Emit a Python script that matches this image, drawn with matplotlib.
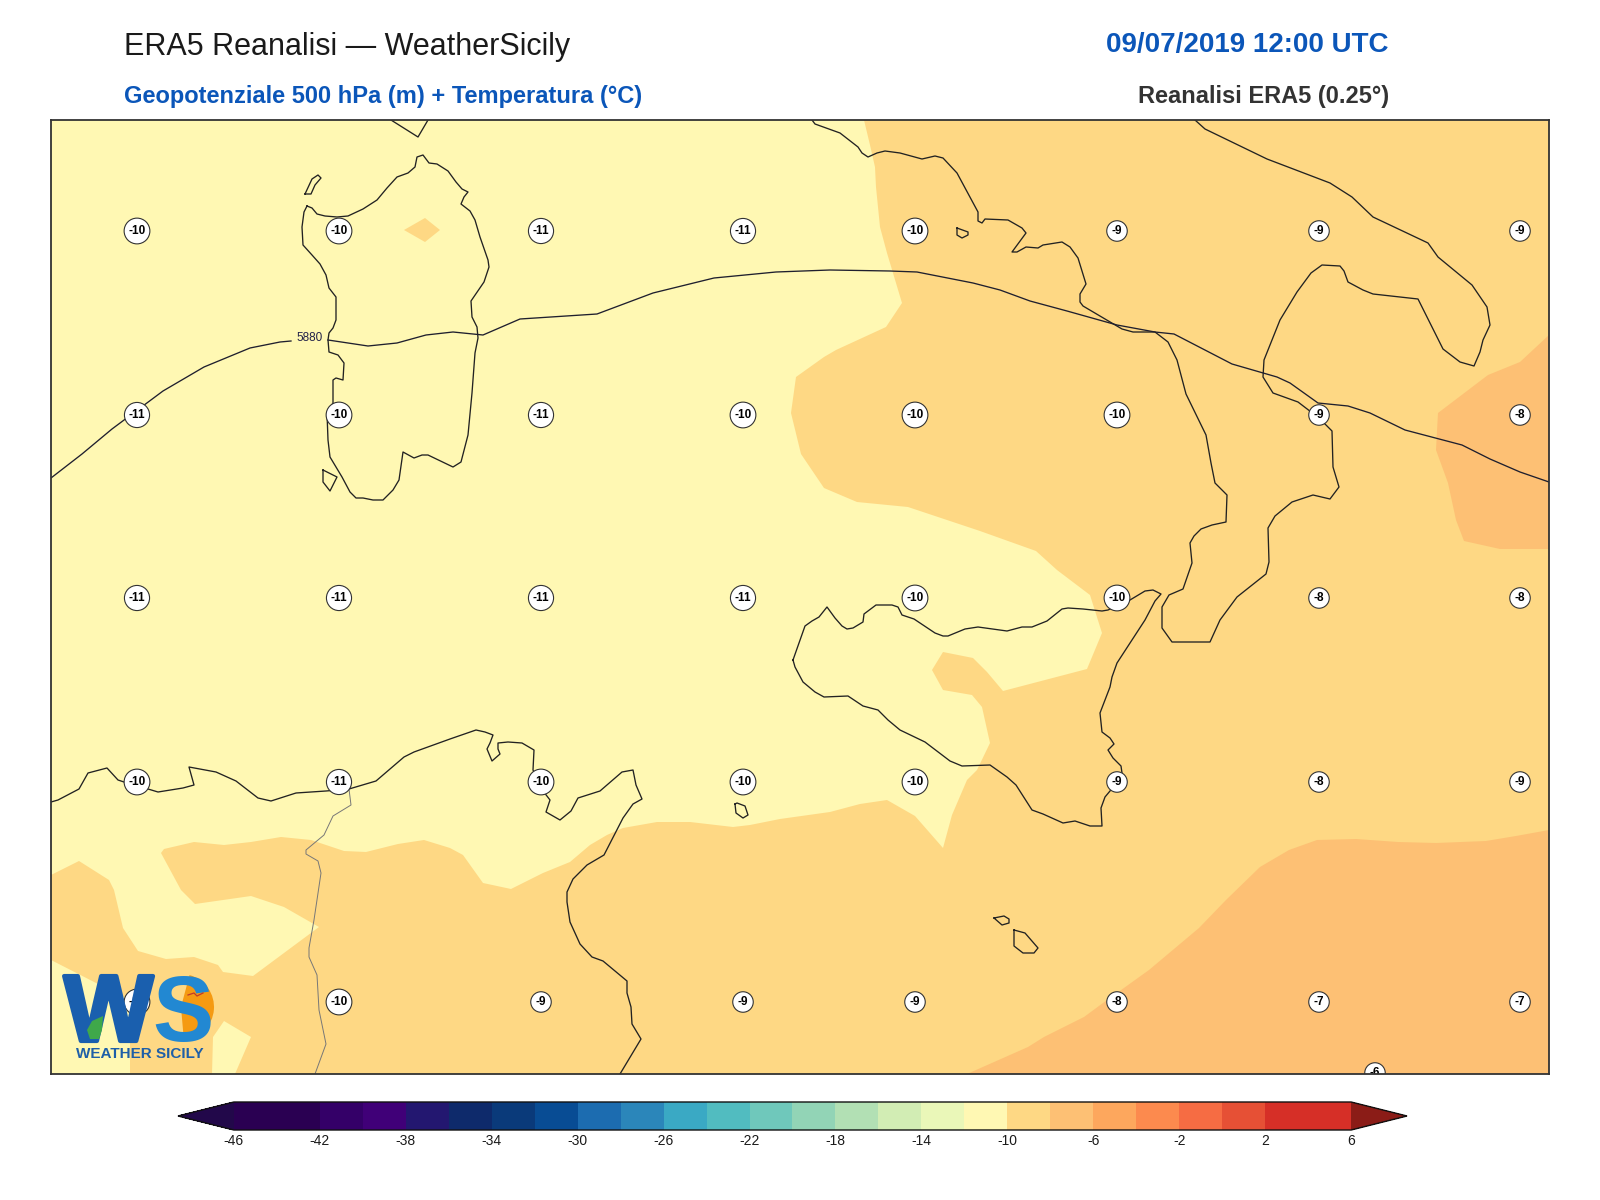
import matplotlib

matplotlib.use("Agg")
import matplotlib.patheffects as path_effects
import matplotlib.pyplot as plt
from matplotlib.colorbar import ColorbarBase
from matplotlib.colors import BoundaryNorm, ListedColormap
from matplotlib.patches import Wedge

plt.rcParams["font.family"] = ["Liberation Sans", "DejaVu Sans"]
plt.rcParams["axes.unicode_minus"] = False

# scala temperatura (°C)
LEVELS = list(range(-46, 8, 2))
BAND_COLORS = [
    "#2a0052", "#2a0052", "#340068", "#400078", "#231770", "#0e2a6b", "#0a3a7a",
    "#084c94", "#1c6cb0", "#2b86ba", "#3aa9c4", "#51bcc0", "#6fc8bb", "#92d4b6",
    "#b2e0b4", "#d2edb4", "#eaf7b8", "#fff8b3", "#fed884", "#fdc074", "#fda75d",
    "#fc8a4e", "#f66c43", "#e65035", "#d62f27", "#d62f27",
]
UNDER_COLOR = "#22084a"
OVER_COLOR = "#8b1c17"
TICK_LEVELS = list(range(-46, 10, 4))

# griglia dei valori di temperatura
LABEL_X = [137, 339, 541, 743, 915, 1117, 1319, 1520]
LABEL_Y = [231, 415, 598, 782, 1002]
LABEL_VALUES = [
    [-10, -10, -11, -11, -10, -9, -9, -9],
    [-11, -10, -11, -10, -10, -10, -9, -8],
    [-11, -11, -11, -11, -10, -10, -8, -8],
    [-10, -11, -10, -10, -10, -9, -8, -9],
    [-10, -10, -9, -9, -9, -8, -7, -7],
]

MAP_X = (51, 1549)
MAP_Y = (1074, 120)

BAND_10_8 = [
    (864, 120), (870, 145), (875, 167), (876, 187), (880, 227), (887, 253), (902, 303), (886, 327),
    (836, 350), (824, 357), (796, 377), (791, 413), (801, 454), (824, 488), (857, 502), (908, 507),
    (980, 531), (1036, 551), (1057, 570), (1090, 595), (1102, 633), (1087, 669), (1003, 691),
    (987, 672), (973, 658), (943, 652), (932, 670), (943, 690), (972, 695), (982, 707), (990, 743),
    (977, 770), (967, 780), (952, 815), (943, 848), (915, 816), (887, 800), (860, 804), (830, 812),
    (780, 819), (750, 825), (733, 827), (690, 822), (657, 822), (623, 828), (607, 835), (590, 845),
    (570, 862), (543, 873), (511, 889), (483, 883), (463, 855), (450, 848), (424, 840), (398, 844),
    (366, 852), (344, 851), (311, 840), (281, 837), (251, 842), (224, 845), (194, 842), (164, 849),
    (161, 853), (181, 890), (195, 904), (251, 896), (284, 907), (319, 927), (253, 976), (223, 972),
    (218, 965), (194, 957), (166, 959), (138, 951), (123, 928), (114, 890), (109, 880), (79, 861),
    (51, 875), (51, 960), (100, 985), (130, 1000), (130, 1074), (212, 1074), (213, 1037), (224, 1021),
    (251, 1037), (235, 1074), (1549, 1074), (1549, 120),
]
BAND_10_8_SARDEGNA = [(404, 230), (425, 218), (440, 230), (425, 242)]
BAND_8_6_EAST = [
    (1549, 335), (1520, 362), (1488, 375), (1438, 413), (1436, 450), (1448, 483), (1456, 520),
    (1464, 541), (1500, 549), (1549, 549),
]
BAND_8_6_SOUTH = [
    (967, 1074), (1028, 1047), (1044, 1037), (1084, 1017), (1103, 1003), (1149, 970), (1199, 928),
    (1226, 900), (1260, 867), (1289, 850), (1317, 840), (1356, 839), (1398, 842), (1436, 843),
    (1486, 841), (1516, 836), (1549, 830), (1549, 1074),
]

GEO_5880_WEST = [
    (51, 478), (82, 454), (112, 429), (163, 391), (204, 367), (250, 348), (280, 342), (291, 341),
]
GEO_5880_EAST = [
    (328, 340), (368, 346), (397, 343), (426, 335), (453, 332), (483, 335), (520, 319), (597, 314),
    (653, 293), (714, 278), (776, 272), (830, 270), (890, 271), (917, 272), (973, 283), (1000, 290),
    (1030, 301), (1067, 311), (1117, 325), (1155, 332), (1174, 334), (1232, 364), (1277, 377),
    (1290, 383), (1318, 403), (1348, 406), (1370, 413), (1405, 430), (1462, 445), (1490, 459),
    (1520, 472), (1549, 482),
]

SARDEGNA = [
    (307, 206), (312, 208), (317, 214), (325, 216), (337, 217), (348, 216), (363, 209), (377, 200),
    (387, 188), (397, 177), (408, 173), (415, 167), (417, 157), (423, 155), (429, 163), (437, 164),
    (448, 171), (456, 182), (462, 189), (468, 192), (464, 197), (461, 204), (470, 211), (475, 220),
    (480, 237), (488, 260), (489, 267), (484, 282), (471, 301), (472, 317), (477, 327), (478, 338),
    (475, 353), (472, 393), (468, 435), (461, 462), (453, 467), (428, 455), (422, 455), (414, 458),
    (403, 452), (399, 480), (393, 490), (383, 500), (373, 500), (363, 498), (356, 498), (350, 492),
    (342, 477), (330, 457), (328, 440), (327, 413), (333, 403), (333, 380), (336, 378), (343, 380),
    (344, 363), (338, 355), (329, 352), (328, 340), (329, 333), (333, 328), (336, 320), (336, 297),
    (329, 288), (326, 275), (320, 264), (312, 255), (303, 245), (302, 227), (304, 212), (307, 206),
]
ASINARA = [(305, 194), (311, 194), (315, 185), (321, 178), (318, 175), (312, 179), (305, 194)]
ANTIOCO = [(323, 470), (337, 477), (330, 491), (323, 482), (323, 470)]
CORSICA = [(391, 120), (418, 137), (428, 120)]
SICILIA = [
    (793, 660), (805, 626), (812, 621), (819, 617), (827, 607), (835, 618), (842, 626), (847, 629),
    (853, 628), (863, 622), (864, 614), (876, 605), (892, 605), (898, 607), (902, 615), (914, 619),
    (935, 633), (943, 636), (948, 636), (965, 629), (978, 627), (1007, 631), (1022, 627), (1032, 627),
    (1047, 621), (1062, 609), (1068, 608), (1083, 609), (1102, 611), (1108, 610), (1130, 600),
    (1145, 591), (1153, 590), (1161, 594), (1155, 601), (1145, 620), (1117, 663), (1112, 677),
    (1110, 687), (1100, 713), (1102, 732), (1110, 738), (1114, 744), (1108, 750), (1113, 758),
    (1121, 766), (1122, 773), (1115, 785), (1105, 797), (1101, 808), (1102, 826), (1090, 826),
    (1075, 821), (1063, 823), (1043, 814), (1032, 810), (1016, 785), (1007, 777), (990, 765),
    (962, 766), (950, 761), (925, 742), (900, 730), (888, 720), (878, 710), (863, 706), (848, 696),
    (824, 697), (815, 692), (803, 682), (795, 667), (793, 660),
]
ITALIA = [
    (812, 120), (815, 124), (840, 133), (858, 147), (862, 153), (868, 157), (877, 153), (885, 151),
    (900, 153), (922, 159), (935, 156), (943, 158), (957, 173), (978, 212), (978, 221), (982, 223),
    (985, 219), (1008, 220), (1022, 228), (1026, 233), (1012, 252), (1017, 252), (1026, 247),
    (1038, 248), (1043, 245), (1062, 242), (1070, 247), (1078, 258), (1086, 284), (1080, 294),
    (1080, 302), (1083, 306), (1122, 329), (1133, 332), (1155, 332), (1168, 342), (1177, 360),
    (1186, 394), (1206, 435), (1211, 463), (1215, 483), (1227, 495), (1226, 522), (1212, 525),
    (1201, 529), (1194, 536), (1190, 543), (1192, 563), (1183, 589), (1169, 595), (1162, 607),
    (1162, 628), (1172, 642), (1210, 642), (1220, 620), (1237, 597), (1266, 574), (1269, 562),
    (1268, 528), (1275, 516), (1292, 502), (1313, 495), (1330, 499), (1339, 487), (1333, 467),
    (1332, 431), (1325, 424), (1315, 415), (1298, 402), (1273, 393), (1263, 377), (1264, 360),
    (1280, 320), (1297, 292), (1311, 273), (1322, 265), (1340, 266), (1344, 271), (1348, 282),
    (1363, 290), (1373, 294), (1418, 299), (1443, 349), (1460, 362), (1474, 366), (1480, 352),
    (1483, 340), (1490, 325), (1487, 307), (1472, 285), (1438, 257), (1428, 243), (1373, 217),
    (1352, 197), (1330, 183), (1267, 159), (1205, 129), (1195, 120),
]
AFRICA = [
    (51, 802), (58, 800), (79, 789), (88, 773), (107, 768), (118, 780), (124, 782), (148, 789),
    (158, 792), (183, 788), (194, 785), (189, 767), (216, 772), (236, 781), (258, 798), (271, 801),
    (296, 793), (326, 791), (349, 789), (376, 781), (404, 757), (414, 752), (450, 739), (476, 730),
    (485, 732), (493, 735), (490, 743), (487, 749), (492, 761), (500, 754), (498, 749), (498, 743),
    (508, 742), (522, 743), (534, 750), (533, 770), (540, 787), (550, 800), (546, 812), (560, 820),
    (571, 811), (578, 798), (600, 791), (622, 772), (633, 770), (636, 785), (642, 799), (633, 804),
    (623, 818), (604, 855), (587, 865), (573, 879), (567, 892), (567, 902), (570, 922), (580, 944),
    (592, 957), (603, 961), (627, 981), (627, 993), (631, 1007), (632, 1024), (641, 1039), (620, 1074),
]
PANTELLERIA = [(735, 804), (737, 803), (745, 806), (748, 815), (743, 818), (736, 813), (735, 804)]
GOZO = [(994, 918), (1004, 916), (1009, 919), (1009, 923), (1002, 925), (994, 918)]
MALTA = [(1014, 930), (1025, 933), (1038, 948), (1034, 953), (1023, 953), (1014, 946), (1014, 930)]
PONZA = [(957, 228), (968, 232), (968, 235), (962, 238), (957, 235), (957, 228)]
CONFINE = [
    (349, 789), (351, 805), (333, 816), (324, 835), (306, 850), (306, 854), (318, 861), (321, 873),
    (314, 920), (309, 948), (309, 957), (317, 975), (319, 1010), (326, 1044), (315, 1074),
]


def polygon(axis, points, color, zorder=1):
    axis.fill([p[0] for p in points], [p[1] for p in points], color=color, lw=0, zorder=zorder)


def polyline(axis, points, **style):
    axis.plot([p[0] for p in points], [p[1] for p in points], **style)


def value_label(axis, x, y, text):
    axis.text(
        x, y, text, fontsize=8.5, fontweight="bold", color="black", ha="center", va="center",
        zorder=6, clip_on=True,
        bbox=dict(boxstyle="circle,pad=0.36", facecolor="white", edgecolor="#333333", linewidth=0.8),
    )


figure = plt.figure(figsize=(16, 12), dpi=100)
axis = figure.add_axes([51 / 1600, 126 / 1200, 1498 / 1600, 954 / 1200])
axis.set_xlim(*MAP_X)
axis.set_ylim(*MAP_Y)
axis.set_xticks([])
axis.set_yticks([])
axis.set_facecolor(BAND_COLORS[LEVELS.index(-12)])
for spine in axis.spines.values():
    spine.set_linewidth(1.3)
    spine.set_color("#333333")
    spine.set_zorder(20)

polygon(axis, BAND_10_8, BAND_COLORS[LEVELS.index(-10)])
polygon(axis, BAND_10_8_SARDEGNA, BAND_COLORS[LEVELS.index(-10)])
polygon(axis, BAND_8_6_EAST, BAND_COLORS[LEVELS.index(-8)], zorder=2)
polygon(axis, BAND_8_6_SOUTH, BAND_COLORS[LEVELS.index(-8)], zorder=2)

polyline(axis, CONFINE, color="#777777", lw=0.7, zorder=3)
for coast in [SARDEGNA, ASINARA, ANTIOCO, CORSICA, SICILIA, ITALIA, AFRICA, PANTELLERIA, GOZO, MALTA, PONZA]:
    polyline(axis, coast, color="#222222", lw=0.95, zorder=4)

polyline(axis, GEO_5880_WEST, color="#1f1f2e", lw=0.95, zorder=5)
polyline(axis, GEO_5880_EAST, color="#1f1f2e", lw=0.95, zorder=5)
axis.text(310, 338, "5880", fontsize=8.5, color="#22224a", ha="center", va="center", zorder=5)

for row, y in zip(LABEL_VALUES, LABEL_Y):
    for x, value in zip(LABEL_X, row):
        value_label(axis, x, y, str(value))
value_label(axis, 1375, 1073, "-6")

# logo WS
axis.add_patch(Wedge((181, 1007), 33, -75, 85, facecolor="#f59a12", edgecolor="none", zorder=7))
axis.text(
    64, 1041, "W", fontsize=68, fontweight="bold", color="#1a5fae", ha="left", va="baseline", zorder=8,
    path_effects=[path_effects.withStroke(linewidth=3, foreground="#1a5fae")],
)
axis.text(152, 1041, "S", fontsize=66, fontweight="bold", color="#2288d2", ha="left", va="baseline", zorder=9)
polygon(axis, [(87, 1030), (92, 1021), (103, 1016), (102, 1030), (99, 1039), (90, 1039)], "#3fa84a", zorder=10)
polyline(axis, [(188, 995), (194, 993), (197, 996), (203, 993)], color="#c0392b", lw=0.9, zorder=10)
axis.text(
    140, 1054, "WEATHER SICILY", fontsize=11, fontweight="bold", color="#1e5fa8", ha="center", va="center", zorder=8,
)

# titoli
figure.text(124 / 1600, 1 - 47 / 1200, "ERA5 Reanalisi — WeatherSicily", fontsize=22, color="#1a1a1a", va="center")
figure.text(
    124 / 1600, 1 - 97 / 1200, "Geopotenziale 500 hPa (m) + Temperatura (°C)",
    fontsize=17, fontweight="bold", color="#0b56b9", va="center",
)
figure.text(
    1389 / 1600, 1 - 45 / 1200, "09/07/2019 12:00 UTC",
    fontsize=20, fontweight="bold", color="#0b56b9", ha="right", va="center",
)
figure.text(
    1389 / 1600, 1 - 97 / 1200, "Reanalisi ERA5 (0.25°)",
    fontsize=17, fontweight="bold", color="#333333", ha="right", va="center",
)

# barra colori: l'asse comprende anche le due punte
colorbar_axis = figure.add_axes([178 / 1600, 70 / 1200, 1229 / 1600, 28 / 1200])
colormap = ListedColormap(BAND_COLORS)
colormap.set_under(UNDER_COLOR)
colormap.set_over(OVER_COLOR)
colorbar = ColorbarBase(
    colorbar_axis,
    cmap=colormap,
    norm=BoundaryNorm(LEVELS, colormap.N),
    orientation="horizontal",
    extend="both",
    extendfrac=0.05,
    ticks=TICK_LEVELS,
    spacing="proportional",
)
colorbar.ax.minorticks_off()
colorbar.ax.tick_params(which="both", length=0, pad=3, labelsize=10, labelcolor="#1a1a1a")
colorbar.outline.set_linewidth(1.0)
colorbar.outline.set_edgecolor("#111111")

figure.savefig("out.png", dpi=100)
plt.close(figure)
